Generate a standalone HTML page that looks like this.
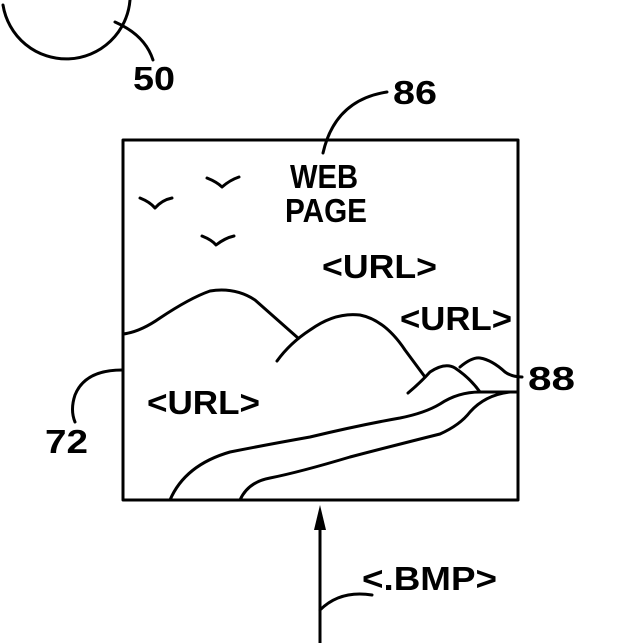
<!DOCTYPE html>
<html><head><style>html,body{margin:0;padding:0;background:#fff;}svg{display:block}</style></head>
<body>
<svg width="643" height="643" viewBox="0 0 643 643" xmlns="http://www.w3.org/2000/svg">
<g fill="none" stroke="#000" stroke-width="3" stroke-linecap="round" stroke-linejoin="round">
<path d="M3,5 A64,64 0 0 0 130,0"/>
<path d="M115,22 Q145,35 153,60"/>
<rect x="123" y="140" width="395" height="360"/>
<path d="M323,153 Q335,100 387,92"/>
<path d="M140,198 Q150,202 155,208 Q162,200 172,198"/>
<path d="M207,178 Q217,182 222,187 Q230,180 239,177"/>
<path d="M202,236 Q212,240 216,245 Q225,238 234,236"/>
<path d="M123,334 Q140,332 160,318 Q190,298 210,291 Q235,287 255,300 L298,338"/>
<path d="M277,361 Q290,343 310,330 Q335,312 360,315 Q385,320 405,350 L425,377"/>
<path d="M408,393 Q420,383 430,372 Q445,362 455,368 Q470,378 480,392 L518,392"/>
<path d="M460,367 Q472,357 480,358 Q492,360 505,372 Q512,377 522,377"/>
<path d="M170,500 Q185,465 230,452 Q265,445 310,437 Q360,425 400,418 Q425,413 440,404 Q458,392 480,392"/>
<path d="M240,500 Q248,482 270,478 Q300,472 350,457 Q400,444 440,434 Q460,425 470,412 Q485,395 510,392"/>
<path d="M122,370 Q85,370 75,395 Q70,410 75,422"/>
<path d="M320,643 L320,520"/>
<path d="M320,610 Q340,590 372,595"/>
</g>
<polygon points="320,505 314,530 326,530" fill="#000"/>
<g font-family="Liberation Sans, sans-serif" font-weight="bold" font-size="33" fill="#000" lengthAdjust="spacingAndGlyphs">
<text x="133" y="90" textLength="42" lengthAdjust="spacingAndGlyphs">50</text>
<text x="393" y="104" textLength="44" lengthAdjust="spacingAndGlyphs">86</text>
<text x="290" y="188" textLength="68" lengthAdjust="spacingAndGlyphs">WEB</text>
<text x="285" y="222" textLength="82" lengthAdjust="spacingAndGlyphs">PAGE</text>
<text x="322" y="278" textLength="115" lengthAdjust="spacingAndGlyphs">&lt;URL&gt;</text>
<text x="400" y="330" textLength="112" lengthAdjust="spacingAndGlyphs">&lt;URL&gt;</text>
<text x="147" y="414" textLength="113" lengthAdjust="spacingAndGlyphs">&lt;URL&gt;</text>
<text x="528" y="390" textLength="47" lengthAdjust="spacingAndGlyphs">88</text>
<text x="45" y="453" textLength="43" lengthAdjust="spacingAndGlyphs">72</text>
<text x="362" y="590" textLength="135" lengthAdjust="spacingAndGlyphs">&lt;.BMP&gt;</text>
</g>
</svg>
</body></html>
